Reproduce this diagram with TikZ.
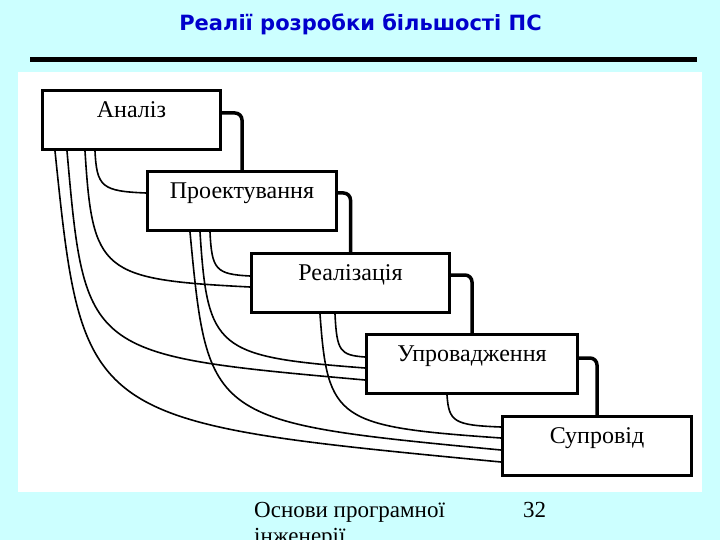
\documentclass[tikz,border=0pt]{standalone}
\usepackage{fontspec}
\setmainfont{Liberation Serif}
\newfontfamily\titlefont{DejaVu Sans}
\usetikzlibrary{calc}
\definecolor{bgc}{HTML}{CCFFFF}
\definecolor{titc}{HTML}{0000CC}
\newcommand\lnk[5]{%
  \coordinate (ls) at #1;
  \coordinate (le) at #2;
  \coordinate (lk) at ($(ls|-le)+(#3,-#4)$);
  \draw[thinln] (ls) .. controls ($(ls)!#5!(lk)$) and ($(le)!#5!(lk)$) .. (le);}
\begin{document}
\begin{tikzpicture}[x=1pt,y=-1pt,
  stagebox/.style={draw, line width=3pt, fill=white, inner sep=0pt,
    text height=27pt, text depth=32pt, font=\fontsize{24}{28}\selectfont,
    anchor=north west},
  thinln/.style={line width=1.6pt},
  thickln/.style={line width=3.5pt, rounded corners=7pt},
  foot/.style={anchor=base west, inner sep=0pt, font=\fontsize{23}{27}\selectfont}]
\fill[bgc] (0,0) rectangle (720,540);
\useasboundingbox (0,0) rectangle (720,540);
\fill[white] (18,72) rectangle (702,492);
\draw[line width=5pt] (30,60) -- (697,60);
\node[font=\titlefont\bfseries\fontsize{21}{24}\selectfont, text=titc, anchor=base, inner sep=0pt] (title) at (360.5,30.5) {Реалії розробки більшості ПС};

% box positions
\path (41,89) coordinate (anp) (146,170) coordinate (prp) (250,252) coordinate (rep)
      (365,333) coordinate (upp) (501,415) coordinate (sup);
\node[stagebox, minimum width=178pt, draw=none, fill=none] (an) at (anp) {\phantom{Аналіз}};
\node[stagebox, minimum width=189pt, draw=none, fill=none] (pr) at (prp) {\phantom{Проектування}};
\node[stagebox, minimum width=198pt, draw=none, fill=none] (re) at (rep) {\phantom{Реалізація}};
\node[stagebox, minimum width=211pt, draw=none, fill=none] (up) at (upp) {\phantom{Упровадження}};
\node[stagebox, minimum width=189pt, draw=none, fill=none] (su) at (sup) {\phantom{Супровід}};

% thin links
\lnk{($(an.south west)+(54,0)$)}{($(pr.north west)+(0,23)$)}{2}{2}{0.9}
\lnk{($(an.south west)+(44,0)$)}{($(re.north west)+(0,35)$)}{8}{8}{0.95}
\lnk{($(an.south west)+(26,0)$)}{($(up.north west)+(0,47)$)}{18}{25}{1.0}
\lnk{($(an.south west)+(14,0)$)}{($(su.north west)+(0,47)$)}{28}{40}{1.0}
\lnk{($(pr.south west)+(64,0)$)}{($(re.north west)+(0,24)$)}{2}{2}{0.9}
\lnk{($(pr.south west)+(54,0)$)}{($(up.north west)+(0,35)$)}{8}{12}{0.95}
\lnk{($(pr.south west)+(44,0)$)}{($(su.north west)+(0,35)$)}{18}{28}{1.0}
\lnk{($(re.south west)+(85,0)$)}{($(up.north west)+(0,24)$)}{2}{2}{0.9}
\lnk{($(re.south west)+(70,0)$)}{($(su.north west)+(0,23)$)}{8}{12}{0.95}
\lnk{($(up.south west)+(82,0)$)}{($(su.north west)+(0,12)$)}{2}{2}{0.9}

% thick links
\draw[thickln] ($(an.north east)+(0,24)$) -| (pr.north);
\draw[thickln] ($(pr.north east)+(0,23)$) -| (re.north);
\draw[thickln] ($(re.north east)+(0,23)$) -| (up.north);
\draw[thickln] ($(up.north east)+(0,25)$) -| (su.north);

% boxes
\node[stagebox, minimum width=178pt] (anb) at (anp) {Аналіз};
\node[stagebox, minimum width=189pt] (prb) at (prp) {Проектування};
\node[stagebox, minimum width=198pt] (reb) at (rep) {Реалізація};
\node[stagebox, minimum width=211pt] (upb) at (upp) {Упровадження};
\node[stagebox, minimum width=189pt] (sub) at (sup) {Супровід};

% footer
\node[foot] (ft1) at (254,517) {Основи програмної};
\node[foot] (ft2) at (254,543) {інженерії};
\node[foot] (pg) at (523,517) {32};
\end{tikzpicture}
\end{document}
